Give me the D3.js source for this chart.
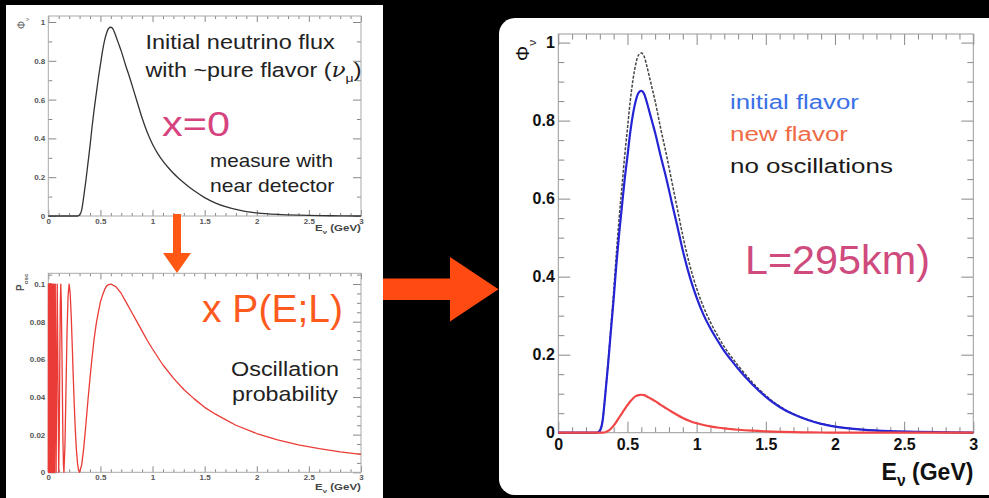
<!DOCTYPE html>
<html><head><meta charset="utf-8">
<script src="https://cdn.jsdelivr.net/npm/d3@7"></script>
<style>html,body{margin:0;padding:0;background:#000;} svg{display:block;}</style>
</head><body>
<svg id="c" width="989" height="498"></svg>
<script>
// ---------- data ----------
const energy = [0, 0.28, 0.30, 0.32, 0.34, 0.36, 0.38, 0.40, 0.42, 0.44, 0.46, 0.48, 0.50, 0.52, 0.54, 0.56, 0.58, 0.60, 0.62, 0.64, 0.66, 0.68, 0.70, 0.74, 0.78, 0.82, 0.86, 0.90, 0.95, 1.00, 1.05, 1.10, 1.15, 1.20, 1.25, 1.30, 1.40, 1.50, 1.60, 1.70, 1.80, 1.90, 2.00, 2.20, 2.40, 2.60, 2.80, 3.00];
const noOsc = [0, 0, 0.005, 0.03, 0.10, 0.18, 0.27, 0.36, 0.46, 0.55, 0.63, 0.71, 0.78, 0.85, 0.905, 0.945, 0.968, 0.973, 0.965, 0.94, 0.91, 0.88, 0.85, 0.78, 0.715, 0.645, 0.575, 0.505, 0.43, 0.37, 0.322, 0.283, 0.25, 0.22, 0.195, 0.172, 0.13, 0.095, 0.068, 0.048, 0.034, 0.023, 0.016, 0.008, 0.004, 0.002, 0.001, 0];
const initialFlavor = [0, 0, 0.005, 0.030, 0.099, 0.176, 0.260, 0.342, 0.432, 0.511, 0.580, 0.650, 0.709, 0.770, 0.817, 0.851, 0.871, 0.876, 0.869, 0.847, 0.821, 0.795, 0.769, 0.709, 0.653, 0.591, 0.530, 0.467, 0.400, 0.346, 0.302, 0.267, 0.237, 0.209, 0.186, 0.164, 0.125, 0.092, 0.066, 0.047, 0.033, 0.0225, 0.0157, 0.0079, 0.0039, 0.002, 0.001, 0];
const newFlavor = [0, 0, 0, 0.0001, 0.0013, 0.0045, 0.0103, 0.018, 0.028, 0.039, 0.0498, 0.0604, 0.0706, 0.080, 0.0878, 0.0936, 0.0965, 0.0973, 0.0963, 0.093, 0.0892, 0.085, 0.0808, 0.0714, 0.0625, 0.0537, 0.0454, 0.0379, 0.0301, 0.0242, 0.0197, 0.0161, 0.0134, 0.011, 0.0092, 0.0076, 0.0051, 0.0033, 0.0021, 0.0013, 0.0009, 0.0005, 0.0003, 0.0001, 0, 0, 0, 0];

const probEnergy = [0, 0.0015, 0.003, 0.0045, 0.006, 0.0075, 0.009, 0.0105, 0.012, 0.0135, 0.015, 0.0154, 0.0158, 0.0162, 0.0167, 0.0171, 0.0176, 0.0182, 0.0188, 0.0194, 0.020, 0.0207, 0.0214, 0.0222, 0.0231, 0.024, 0.025, 0.0261, 0.0273, 0.0286, 0.030, 0.0316, 0.0333, 0.0353, 0.0375, 0.040, 0.0429, 0.0462, 0.050, 0.0545, 0.060, 0.0667, 0.075, 0.0857, 0.100, 0.105, 0.110, 0.115, 0.120, 0.125, 0.130, 0.140, 0.145, 0.150, 0.160, 0.170, 0.180, 0.190, 0.200, 0.210, 0.220, 0.230, 0.240, 0.250, 0.260, 0.270, 0.280, 0.290, 0.300, 0.320, 0.340, 0.360, 0.380, 0.400, 0.420, 0.440, 0.460, 0.480, 0.500, 0.520, 0.540, 0.560, 0.580, 0.600, 0.650, 0.700, 0.750, 0.800, 0.850, 0.900, 0.950, 1.000, 1.100, 1.200, 1.300, 1.400, 1.500, 1.600, 1.700, 1.800, 2.000, 2.200, 2.400, 2.600, 2.800, 3.000];
const probValue = [0, 0.1, 0, 0.1, 0, 0.1, 0, 0.1, 0, 0.1, 0, 0.1, 0, 0.1, 0, 0.1, 0, 0.1, 0, 0.1, 0, 0.1, 0, 0.1, 0, 0.1, 0, 0.1, 0, 0.1, 0, 0.1, 0, 0.1, 0, 0.1, 0, 0.1, 0, 0.1, 0, 0.1, 0, 0.1, 0, 0.019, 0.057, 0.0887, 0.1, 0.090, 0.068, 0.019, 0.0046, 0, 0.0147, 0.045, 0.075, 0.094, 0.1, 0.095, 0.083, 0.067, 0.050, 0.0345, 0.0216, 0.0117, 0.005, 0.0012, 0, 0.0038, 0.013, 0.025, 0.038, 0.050, 0.061, 0.071, 0.079, 0.085, 0.0905, 0.094, 0.097, 0.099, 0.0997, 0.1, 0.0985, 0.095, 0.090, 0.085, 0.080, 0.075, 0.070, 0.0655, 0.057, 0.050, 0.044, 0.039, 0.0345, 0.031, 0.028, 0.025, 0.0206, 0.0172, 0.0146, 0.0126, 0.0109, 0.0095];

const energyTicks = [0, 0.5, 1, 1.5, 2, 2.5, 3];
const fluxTicks = [0, 0.2, 0.4, 0.6, 0.8, 1];
const probTicks = [0, 0.02, 0.04, 0.06, 0.08, 0.1];
const legendLabels = ["initial flavor", "new flavor", "no oscillations"];

// ---------- drawing ----------
const font = "'Liberation Sans', Arial, Helvetica, sans-serif";
const svg = d3.select("#c");
svg.append("rect").attr("width", 989).attr("height", 498).attr("fill", "#000");
svg.append("rect").attr("x", 6).attr("y", 5).attr("width", 377).attr("height", 493).attr("fill", "#fff");
svg.append("rect").attr("x", 499).attr("y", 18).attr("width", 520).attr("height", 477).attr("rx", 16).attr("fill", "#fff");

const fmt = d => String(+d.toFixed(3));

function frame(g, x, y, o) {
  const [x0, x1] = x.range(), [yb, yt] = y.range();
  const mk = (axisFn, scale, vals, size, labels, tr) => {
    const a = axisFn(scale).tickValues(vals).tickSizeInner(-size).tickSizeOuter(0).tickPadding(labels ? labels : 3)
      .tickFormat(labels ? fmt : () => "");
    const gg = g.append("g").attr("transform", tr).call(a);
    gg.select(".domain").remove();
    gg.selectAll("line").attr("stroke", o.tick).attr("stroke-width", 1);
    gg.selectAll("text").attr("font-family", font).attr("font-size", o.fs)
      .attr("font-weight", o.fw).attr("fill", o.lc);
  };
  mk(d3.axisBottom, x, o.xMajor, o.xMaj, o.xPad, `translate(0,${yb})`);
  mk(d3.axisBottom, x, o.xMinor, o.xMin, 0, `translate(0,${yb})`);
  mk(d3.axisTop, x, o.xMajor, o.xMaj, 0, `translate(0,${yt})`);
  mk(d3.axisTop, x, o.xMinor, o.xMin, 0, `translate(0,${yt})`);
  mk(d3.axisLeft, y, o.yMajor, o.yMaj, o.yPad, `translate(${x0},0)`);
  mk(d3.axisLeft, y, o.yMinor, o.yMin, 0, `translate(${x0},0)`);
  mk(d3.axisRight, y, o.yMajor, o.yMaj, 0, `translate(${x1},0)`);
  mk(d3.axisRight, y, o.yMinor, o.yMin, 0, `translate(${x1},0)`);
  g.append("rect").attr("x", x0).attr("y", yt).attr("width", x1 - x0).attr("height", yb - yt)
    .attr("fill", "none").attr("stroke", o.frame).attr("stroke-width", 1);
}

function minorOf(lo, hi, step, majorStep) {
  return d3.range(Math.round((hi - lo) / step) + 1).map(i => +(lo + i * step).toFixed(4))
    .filter(v => Math.abs(v / majorStep - Math.round(v / majorStep)) > 1e-6);
}

function fitText(g, parts, x, y, size, color, width, weight, anchor) {
  const t = g.append("text").attr("font-family", font).attr("font-size", size)
    .attr("fill", color).attr("font-weight", weight || "normal");
  let shift = 0;
  parts.forEach(p => {
    const s = typeof p === "string" ? { t: p } : p;
    const ts = t.append("tspan").text(s.t);
    const target = s.sub ? size * 0.28 : 0;
    if (target !== shift) { ts.attr("dy", target - shift); shift = target; }
    if (s.sub) ts.attr("font-size", size * (s.scale || 0.68));
    if (s.italic) ts.attr("font-style", "italic").attr("font-family", "'DejaVu Serif', serif");
  });
  const nat = t.node().getComputedTextLength();
  const sx = width ? width / nat : 1;
  const w = nat * sx;
  const x0 = anchor === "end" ? x - w : x;
  t.attr("transform", `translate(${x0},${y}) scale(${sx},1)`);
  return t;
}

function rotLabel(g, parts, x, y, size, color, weight) {
  const t = g.append("text").attr("font-family", font).attr("font-size", size).attr("fill", color)
    .attr("font-weight", weight || "normal").attr("transform", `translate(${x},${y}) rotate(-90)`);
  let shift = 0;
  parts.forEach(p => {
    const s = typeof p === "string" ? { t: p } : p;
    const ts = t.append("tspan").text(s.t);
    const target = s.sub ? size * 0.35 : 0;
    if (target !== shift) { ts.attr("dy", target - shift); shift = target; }
    if (s.sub) ts.attr("font-size", size * 0.62);
  });
}

const curve = d3.curveMonotoneX;

// ===== top-left: initial flux =====
const gT = svg.append("g");
const xT = d3.scaleLinear([0, 3], [48.3, 361]);
const yT = d3.scaleLinear([0, 1.031], [216, 16]);
frame(gT, xT, yT, {
  xMajor: energyTicks, xMinor: minorOf(0, 3, 0.1, 0.5), yMajor: fluxTicks, yMinor: minorOf(0, 1, 0.1, 0.2),
  xMaj: 6, xMin: 3, yMaj: 8, yMin: 4, xPad: 2.5, yPad: 3,
  tick: "#888", frame: "#aaa", fs: 8, fw: "bold", lc: "#555"
});
gT.append("path").datum(energy.map((e, i) => [e, noOsc[i]]))
  .attr("d", d3.line().x(d => xT(d[0])).y(d => yT(d[1])).curve(curve))
  .attr("fill", "none").attr("stroke", "#333").attr("stroke-width", 1.3);
fitText(gT, ["E", { t: "ν", sub: true }, " (GeV)"], 361, 231, 9, "#444", 46, "bold", "end");
rotLabel(gT, ["Φ", { t: "ν", sub: true }], 25, 29, 10, "#666");

fitText(gT, ["Initial neutrino flux"], 145.5, 48.5, 19.5, "#222", 189.5);
fitText(gT, ["with ~pure flavor (", { t: "ν", italic: true }, { t: "μ", sub: true, scale: 0.6 }, ")"], 145.5, 77, 19.5, "#222", 216);
fitText(gT, ["x=0"], 162, 136, 36, "#d6437f", 68);
fitText(gT, ["measure with"], 210, 166.5, 17.5, "#222", 123);
fitText(gT, ["near detector"], 210, 191.5, 17.5, "#222", 124.5);

// ===== bottom-left: oscillation probability =====
const gB = svg.append("g");
const xB = d3.scaleLinear([0, 3], [48.3, 361]);
const yB = d3.scaleLinear([0, 0.1057], [472.3, 273.3]);
frame(gB, xB, yB, {
  xMajor: energyTicks, xMinor: minorOf(0, 3, 0.1, 0.5), yMajor: probTicks, yMinor: minorOf(0, 0.105, 0.005, 0.02),
  xMaj: 6, xMin: 3, yMaj: 8, yMin: 4, xPad: 2.5, yPad: 3,
  tick: "#888", frame: "#aaa", fs: 8, fw: "bold", lc: "#555"
});
gB.append("path").datum(probEnergy.map((e, i) => [e, probValue[i]]))
  .attr("d", d3.line().x(d => xB(d[0])).y(d => yB(d[1])).curve(d3.curveLinear))
  .attr("fill", "none").attr("stroke", "#ea3b36").attr("stroke-width", 1.3).attr("stroke-linejoin", "round");
fitText(gB, ["E", { t: "ν", sub: true }, " (GeV)"], 361, 490, 9, "#444", 46, "bold", "end");
rotLabel(gB, ["P", { t: "osc", sub: true }], 24, 291, 10, "#555", "bold");

fitText(gB, ["x P(E;L)"], 202, 321.5, 38, "#ff5a1e", 141);
fitText(gB, ["Oscillation"], 231, 376, 21, "#222", 108);
fitText(gB, ["probability"], 232, 401, 21, "#222", 106);

// arrows
svg.append("path").attr("d", "M173,214 L181,214 L181,253 L191,253 L177,273 L163,253 L173,253 Z").attr("fill", "#ff5714");
svg.append("path").attr("d", "M383,278.5 L450,278.5 L450,257 L498.5,289.3 L450,321.5 L450,300 L383,300 Z").attr("fill", "#ff4a12");

// ===== right: fluxes at L=295 km =====
const gR = svg.append("g");
const xR = d3.scaleLinear([0, 3], [558.3, 973.3]);
const yR = d3.scaleLinear([0, 1.022], [432.7, 34]);
frame(gR, xR, yR, {
  xMajor: energyTicks, xMinor: minorOf(0, 3, 0.1, 0.5), yMajor: fluxTicks, yMinor: minorOf(0, 1, 0.05, 0.2),
  xMaj: 11, xMin: 5.5, yMaj: 12, yMin: 6, xPad: 6, yPad: 3.5,
  tick: "#888", frame: "#999", fs: 16, fw: "bold", lc: "#111"
});
const lineR = d3.line().x(d => xR(d[0])).y(d => yR(d[1])).curve(curve);
gR.append("path").datum(energy.map((e, i) => [e, noOsc[i]])).attr("d", lineR)
  .attr("fill", "none").attr("stroke", "#444").attr("stroke-width", 1.5).attr("stroke-dasharray", "3,1.5");
gR.append("path").datum(energy.map((e, i) => [e, initialFlavor[i]])).attr("d", lineR)
  .attr("fill", "none").attr("stroke", "#2424d4").attr("stroke-width", 2.2);
gR.append("path").datum(energy.map((e, i) => [e, newFlavor[i]])).attr("d", lineR)
  .attr("fill", "none").attr("stroke", "#f24646").attr("stroke-width", 2.2);

fitText(gR, ["E", { t: "ν", sub: true }, " (GeV)"], 973.5, 480, 23, "#111", 92, "bold", "end");
rotLabel(gR, ["Φ", { t: "ν", sub: true }], 529, 61, 19, "#111");

const legendColors = ["#3b6fe6", "#f06a46", "#1a1a1a"];
const legendWidths = [129, 118, 163];
legendLabels.forEach((s, i) => fitText(gR, [s], 730, [108.5, 140.5, 172.5][i], 21, legendColors[i], legendWidths[i]));
fitText(gR, ["L=295km)"], 745, 274, 40, "#cf4a7d", 185);
</script>
</body></html>
